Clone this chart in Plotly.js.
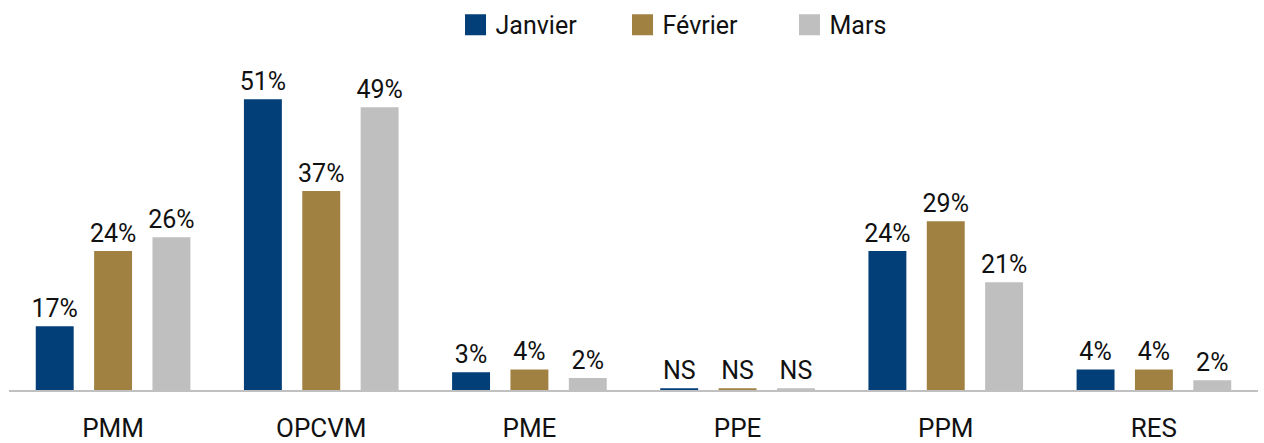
<!DOCTYPE html>
<html><head><meta charset="utf-8">
<script src="https://cdn.plot.ly/plotly-3.0.1.min.js"></script>
<style>html,body{margin:0;padding:0;background:#fff}</style>
</head><body><div id="chart" style="width:1264px;height:443px"></div>
<script>
const categories = ['PMM', 'OPCVM', 'PME', 'PPE', 'PPM', 'RES'];
const seriesNames = ['Janvier', 'Février', 'Mars'];
const janvier = [11.2, 51, 3.1, 0.3, 24.4, 3.6];
const fevrier = [24.4, 34.9, 3.6, 0.3, 29.6, 3.6];
const mars = [26.8, 49.6, 2.1, 0.3, 18.9, 1.7];
const janvierLabels = ['17%', '51%', '3%', 'NS', '24%', '4%'];
const fevrierLabels = ['24%', '37%', '4%', 'NS', '29%', '4%'];
const marsLabels = ['26%', '49%', '2%', 'NS', '21%', '2%'];
const colors = ['#023f78', '#a08142', '#bfbfbf'];

const FONT = 'Roboto, "Noto Sans", sans-serif';
const values = [janvier, fevrier, mars];
const labels = [janvierLabels, fevrierLabels, marsLabels];

const data = values.map((v, i) => ({
  type: 'bar',
  name: seriesNames[i],
  x: categories,
  y: v,
  text: labels[i],
  textposition: 'outside',
  textangle: 0,
  constraintext: 'none',
  cliponaxis: false,
  textfont: {family: FONT, size: 25, color: '#111111'},
  marker: {color: colors[i], line: {width: 0}},
  hoverinfo: 'none'
}));

const layout = {
  width: 1264, height: 443,
  margin: {l: 9, r: 6, t: 60, b: 53, pad: 0},
  paper_bgcolor: '#ffffff', plot_bgcolor: '#ffffff',
  font: {family: FONT, color: '#111111'},
  barmode: 'group',
  bargap: 0.159,
  bargroupgap: 0.35,
  showlegend: true,
  legend: {
    orientation: 'h', x: 0.3575, xanchor: 'left',
    yref: 'container', y: 0.9955, yanchor: 'top',
    font: {family: FONT, size: 25, color: '#111111'},
    entrywidth: 122, entrywidthmode: 'pixels',
    traceorder: 'normal', itemclick: false, itemdoubleclick: false
  },
  xaxis: {
    type: 'category',
    showline: true, linecolor: '#c0c0c0', linewidth: 2,
    showgrid: false, zeroline: false, ticks: '',
    ticklabelstandoff: 14, automargin: false,
    tickfont: {family: FONT, size: 26, color: '#111111'},
    fixedrange: true
  },
  yaxis: {
    range: [0, 57.9], visible: false, showgrid: false, zeroline: false, fixedrange: true, automargin: false
  }
};

Plotly.newPlot('chart', data, layout, {displayModeBar: false, staticPlot: true}).then(gd => {
  gd.querySelectorAll('.legend .legendpoints path').forEach(p => {
    p.setAttribute('d', 'M10.5,10.5H-10.5V-10.5H10.5Z');
  });
});
</script>
</body></html>
